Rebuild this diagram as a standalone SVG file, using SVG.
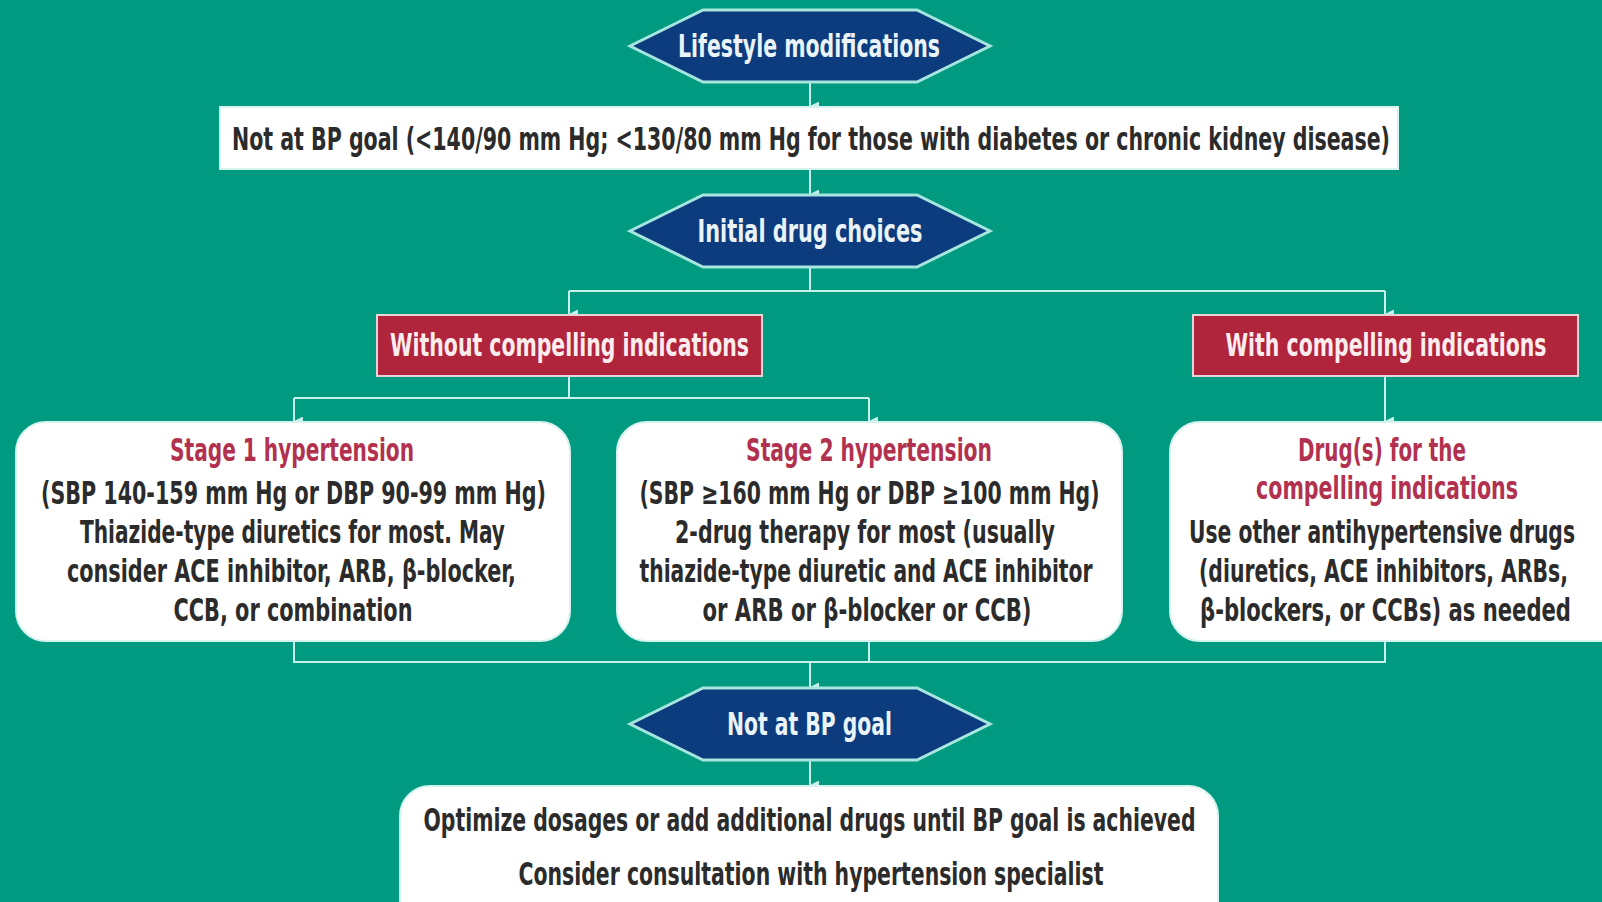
<svg xmlns="http://www.w3.org/2000/svg" width="1602" height="902" viewBox="0 0 1602 902">
<defs>
<style>
.t{font-family:"DejaVu Sans Condensed","DejaVu Sans","Liberation Sans",sans-serif;font-stretch:condensed;font-weight:bold;text-anchor:middle;font-size:23px}
.hexs{fill:#0c3c7e;stroke:#a6e6df;stroke-width:3}
.hext{fill:#eaf3f8}
.red{fill:#b0243c;stroke:#e6d4d6;stroke-width:2}
.redt{fill:#fbecee}
.wb{fill:#ffffff;stroke:#d6f3ef;stroke-width:2}
.dk{fill:#2b2b2b}
.rt{fill:#b2314f}
.c{fill:none;stroke:#c9f1ec;stroke-width:2}
</style>
<marker id="ah" viewBox="0 0 10 10" refX="5" refY="10" markerWidth="9" markerHeight="9" markerUnits="userSpaceOnUse" orient="auto-start-reverse">
<path d="M0,0 L10,0 L5,10 z" fill="#c9f1ec"/>
</marker>
</defs>
<rect x="0" y="0" width="1602" height="902" fill="#009a80"/>

<g id="connectors">
<line class="c" x1="810" y1="82" x2="810" y2="106" marker-end="url(#ah)"/>
<line class="c" x1="810" y1="169" x2="810" y2="194" marker-end="url(#ah)"/>
<polyline class="c" points="810,267 810,291"/>
<polyline class="c" points="569,291 1385,291"/>
<line class="c" x1="569" y1="291" x2="569" y2="314" marker-end="url(#ah)"/>
<line class="c" x1="1385" y1="291" x2="1385" y2="314" marker-end="url(#ah)"/>
<polyline class="c" points="569,376 569,398"/>
<polyline class="c" points="294,398 869,398"/>
<line class="c" x1="294" y1="398" x2="294" y2="421" marker-end="url(#ah)"/>
<line class="c" x1="869" y1="398" x2="869" y2="421" marker-end="url(#ah)"/>
<line class="c" x1="1385" y1="376" x2="1385" y2="421" marker-end="url(#ah)"/>
<polyline class="c" points="294,641 294,662 1385,662 1385,641"/>
<line class="c" x1="869" y1="641" x2="869" y2="662"/>
<line class="c" x1="810" y1="662" x2="810" y2="687" marker-end="url(#ah)"/>
<line class="c" x1="810" y1="760" x2="810" y2="785" marker-end="url(#ah)"/>
</g>

<g id="lifestyle">
<polygon class="hexs" points="630,46 703,10 917,10 990,46 917,82 703,82"/>
<text class="t hext" transform="translate(809,57) scale(1,1.35)" textLength="262" lengthAdjust="spacingAndGlyphs">Lifestyle modifications</text>
</g>

<g id="not-at-goal-1">
<rect class="wb" x="220" y="107" width="1178" height="62"/>
<text class="t dk" transform="translate(811,150) scale(1,1.35)" textLength="1158" lengthAdjust="spacingAndGlyphs">Not at BP goal (&lt;140/90 mm Hg; &lt;130/80 mm Hg for those with diabetes or chronic kidney disease)</text>
</g>

<g id="initial">
<polygon class="hexs" points="630,231 703,195 917,195 990,231 917,267 703,267"/>
<text class="t hext" transform="translate(810,242) scale(1,1.35)" textLength="225" lengthAdjust="spacingAndGlyphs">Initial drug choices</text>
</g>

<g id="without">
<rect class="red" x="377" y="315" width="385" height="61"/>
<text class="t redt" transform="translate(569.5,356) scale(1,1.35)" textLength="359" lengthAdjust="spacingAndGlyphs">Without compelling indications</text>
</g>

<g id="with">
<rect class="red" x="1193" y="315" width="385" height="61"/>
<text class="t redt" transform="translate(1386,356) scale(1,1.35)" textLength="321" lengthAdjust="spacingAndGlyphs">With compelling indications</text>
</g>

<g id="stage1">
<rect class="wb" x="16" y="422" width="554" height="219" rx="30" ry="30"/>
<text class="t rt" transform="translate(292,461) scale(1,1.35)" textLength="244" lengthAdjust="spacingAndGlyphs">Stage 1 hypertension</text>
<text class="t dk" transform="translate(293.5,504) scale(1,1.35)" textLength="505" lengthAdjust="spacingAndGlyphs">(SBP 140-159 mm Hg or DBP 90-99 mm Hg)</text>
<text class="t dk" transform="translate(292.5,543) scale(1,1.35)" textLength="425" lengthAdjust="spacingAndGlyphs">Thiazide-type diuretics for most. May</text>
<text class="t dk" transform="translate(291.5,582) scale(1,1.35)" textLength="449" lengthAdjust="spacingAndGlyphs">consider ACE inhibitor, ARB, β-blocker,</text>
<text class="t dk" transform="translate(293,621) scale(1,1.35)" textLength="239" lengthAdjust="spacingAndGlyphs">CCB, or combination</text>
</g>

<g id="stage2">
<rect class="wb" x="617" y="422" width="505" height="219" rx="30" ry="30"/>
<text class="t rt" transform="translate(869,461) scale(1,1.35)" textLength="246" lengthAdjust="spacingAndGlyphs">Stage 2 hypertension</text>
<text class="t dk" transform="translate(869.5,504) scale(1,1.35)" textLength="460" lengthAdjust="spacingAndGlyphs">(SBP ≥160 mm Hg or DBP ≥100 mm Hg)</text>
<text class="t dk" transform="translate(865,543) scale(1,1.35)" textLength="380" lengthAdjust="spacingAndGlyphs">2-drug therapy for most (usually</text>
<text class="t dk" transform="translate(866,582) scale(1,1.35)" textLength="453" lengthAdjust="spacingAndGlyphs">thiazide-type diuretic and ACE inhibitor</text>
<text class="t dk" transform="translate(867,621) scale(1,1.35)" textLength="329" lengthAdjust="spacingAndGlyphs">or ARB or β-blocker or CCB)</text>
</g>

<g id="compelling">
<rect class="wb" x="1170" y="422" width="460" height="219" rx="30" ry="30"/>
<text class="t rt" transform="translate(1382,461) scale(1,1.35)" textLength="168" lengthAdjust="spacingAndGlyphs">Drug(s) for the</text>
<text class="t rt" transform="translate(1387,499) scale(1,1.35)" textLength="262" lengthAdjust="spacingAndGlyphs">compelling indications</text>
<text class="t dk" transform="translate(1382,543) scale(1,1.35)" textLength="386" lengthAdjust="spacingAndGlyphs">Use other antihypertensive drugs</text>
<text class="t dk" transform="translate(1383.5,582) scale(1,1.35)" textLength="369" lengthAdjust="spacingAndGlyphs">(diuretics, ACE inhibitors, ARBs,</text>
<text class="t dk" transform="translate(1385.5,621) scale(1,1.35)" textLength="371" lengthAdjust="spacingAndGlyphs">β-blockers, or CCBs) as needed</text>
</g>

<g id="not-at-goal-2">
<polygon class="hexs" points="630,724 703,688 917,688 990,724 917,760 703,760"/>
<text class="t hext" transform="translate(809.5,735) scale(1,1.35)" textLength="165" lengthAdjust="spacingAndGlyphs">Not at BP goal</text>
</g>

<g id="optimize">
<rect class="wb" x="400" y="786" width="818" height="150" rx="30" ry="30"/>
<text class="t dk" transform="translate(809.5,831) scale(1,1.35)" textLength="772" lengthAdjust="spacingAndGlyphs">Optimize dosages or add additional drugs until BP goal is achieved</text>
<text class="t dk" transform="translate(811,885) scale(1,1.35)" textLength="585" lengthAdjust="spacingAndGlyphs">Consider consultation with hypertension specialist</text>
</g>
</svg>
